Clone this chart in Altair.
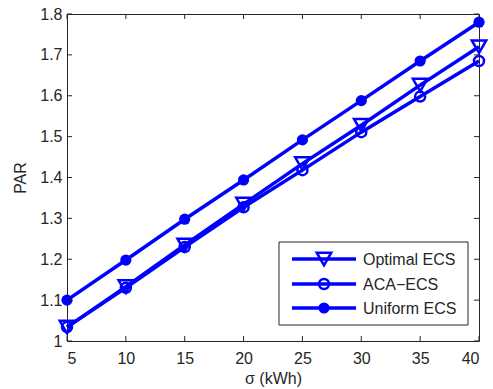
import altair as alt
import pandas as pd

sigma = [5, 10, 15, 20, 25, 30, 35, 40]
optimal = [1.034, 1.133, 1.235, 1.335, 1.434, 1.528, 1.626, 1.720]
aca = [1.034, 1.130, 1.230, 1.327, 1.418, 1.511, 1.598, 1.685]
uniform = [1.100, 1.198, 1.298, 1.394, 1.492, 1.588, 1.685, 1.780]
series_names = ["Optimal ECS", "ACA-ECS", "Uniform ECS"]
legend_labels = ["Optimal ECS", "ACA\u2212ECS", "Uniform ECS"]
x_ticks = [5, 10, 15, 20, 25, 30, 35, 40]
y_ticks = [1.0, 1.1, 1.2, 1.3, 1.4, 1.5, 1.6, 1.7, 1.8]

BLUE = "#0000FF"
AX = "#262626"
FONT = "Liberation Sans"
FS = 16
W, H = 412, 327

rows = []
for name, vals in zip(series_names, [optimal, aca, uniform]):
    for s, v in zip(sigma, vals):
        rows.append({"sigma": s, "par": v, "series": name})
df = pd.DataFrame(rows)

xs = alt.Scale(domain=[5, 40], nice=False, zero=False)
ys = alt.Scale(domain=[1.0, 1.8], nice=False, zero=False)

X = alt.X("sigma:Q", scale=xs, title="\u03c3 (kWh)",
          axis=alt.Axis(values=x_ticks, format="d", tickSize=0, domain=False, grid=False,
                        labelPadding=9, titlePadding=4, labelFontSize=FS, titleFontSize=FS,
                        labelFont=FONT, titleFont=FONT, labelColor=AX, titleColor=AX,
                        titleFontWeight="normal"))
Y = alt.Y("par:Q", scale=ys, title="PAR",
          axis=alt.Axis(values=y_ticks, format="~g", tickSize=0, domain=False, grid=False,
                        labelPadding=5, titlePadding=11, labelFontSize=FS, titleFontSize=FS,
                        labelFont=FONT, titleFont=FONT, labelColor=AX, titleColor=AX,
                        titleFontWeight="normal"))

lines = alt.Chart(df).mark_line(color=BLUE, strokeWidth=3.5).encode(x=X, y=Y, detail="series:N")

TRI = 210
OC = 100
FC = 125

pt_opt = alt.Chart(df[df.series == "Optimal ECS"]).mark_point(
    shape="triangle-down", filled=False, color=BLUE, strokeWidth=2.5, size=TRI, opacity=1
).encode(x="sigma:Q", y="par:Q")
pt_aca = alt.Chart(df[df.series == "ACA-ECS"]).mark_point(
    shape="circle", filled=False, color=BLUE, strokeWidth=2.5, size=OC, opacity=1
).encode(x="sigma:Q", y="par:Q")
pt_uni = alt.Chart(df[df.series == "Uniform ECS"]).mark_point(
    shape="circle", filled=True, color=BLUE, size=FC, opacity=1
).encode(x="sigma:Q", y="par:Q")

# inward ticks on all four sides
xt = pd.DataFrame({"sigma": x_ticks})
yt = pd.DataFrame({"par": y_ticks})
tk = 5
ticks = [
    alt.Chart(xt).mark_rule(color=AX, strokeWidth=1).encode(x="sigma:Q", y=alt.value(H), y2=alt.value(H - tk)),
    alt.Chart(xt).mark_rule(color=AX, strokeWidth=1).encode(x="sigma:Q", y=alt.value(0), y2=alt.value(tk)),
    alt.Chart(yt).mark_rule(color=AX, strokeWidth=1).encode(y="par:Q", x=alt.value(0), x2=alt.value(tk)),
    alt.Chart(yt).mark_rule(color=AX, strokeWidth=1).encode(y="par:Q", x=alt.value(W), x2=alt.value(W - tk)),
]

# legend
lx0, lx1, ly0, ly1 = 212, 401, 228, 311
entry_y = [245, 270, 294]
leg_df = pd.DataFrame({"label": legend_labels})
legend = [
    alt.Chart(leg_df.head(1)).mark_rect(fill="white", stroke=AX, strokeWidth=1).encode(
        x=alt.value(lx0), x2=alt.value(lx1), y=alt.value(ly0), y2=alt.value(ly1))
]
shapes = [("triangle-down", False, TRI), ("circle", False, OC), ("circle", True, FC)]
for i, (lab, (shp, fl, sz)) in enumerate(zip(legend_labels, shapes)):
    d = leg_df.iloc[[i]]
    legend.append(alt.Chart(d).mark_rule(color=BLUE, strokeWidth=3.5).encode(
        x=alt.value(225), x2=alt.value(289), y=alt.value(entry_y[i])))
    if fl:
        legend.append(alt.Chart(d).mark_point(shape=shp, filled=True, color=BLUE, size=sz, opacity=1).encode(
            x=alt.value(257), y=alt.value(entry_y[i])))
    else:
        legend.append(alt.Chart(d).mark_point(shape=shp, filled=False, color=BLUE, strokeWidth=2.5,
                                              size=sz, opacity=1).encode(
            x=alt.value(257), y=alt.value(entry_y[i])))
    legend.append(alt.Chart(d).mark_text(align="left", baseline="middle", font=FONT, fontSize=FS,
                                         color=AX).encode(
        x=alt.value(296), y=alt.value(entry_y[i] + 1), text="label:N"))

chart = alt.layer(lines, pt_opt, pt_aca, pt_uni, *ticks, *legend).properties(
    width=W, height=H,
    autosize=alt.AutoSizeParams(type="none"),
    padding={"left": 67, "top": 14, "right": 14, "bottom": 48},
    background="white",
).configure_view(stroke=AX, strokeWidth=1)

chart.save("out.html", embed_options={"renderer": "svg", "actions": False})
